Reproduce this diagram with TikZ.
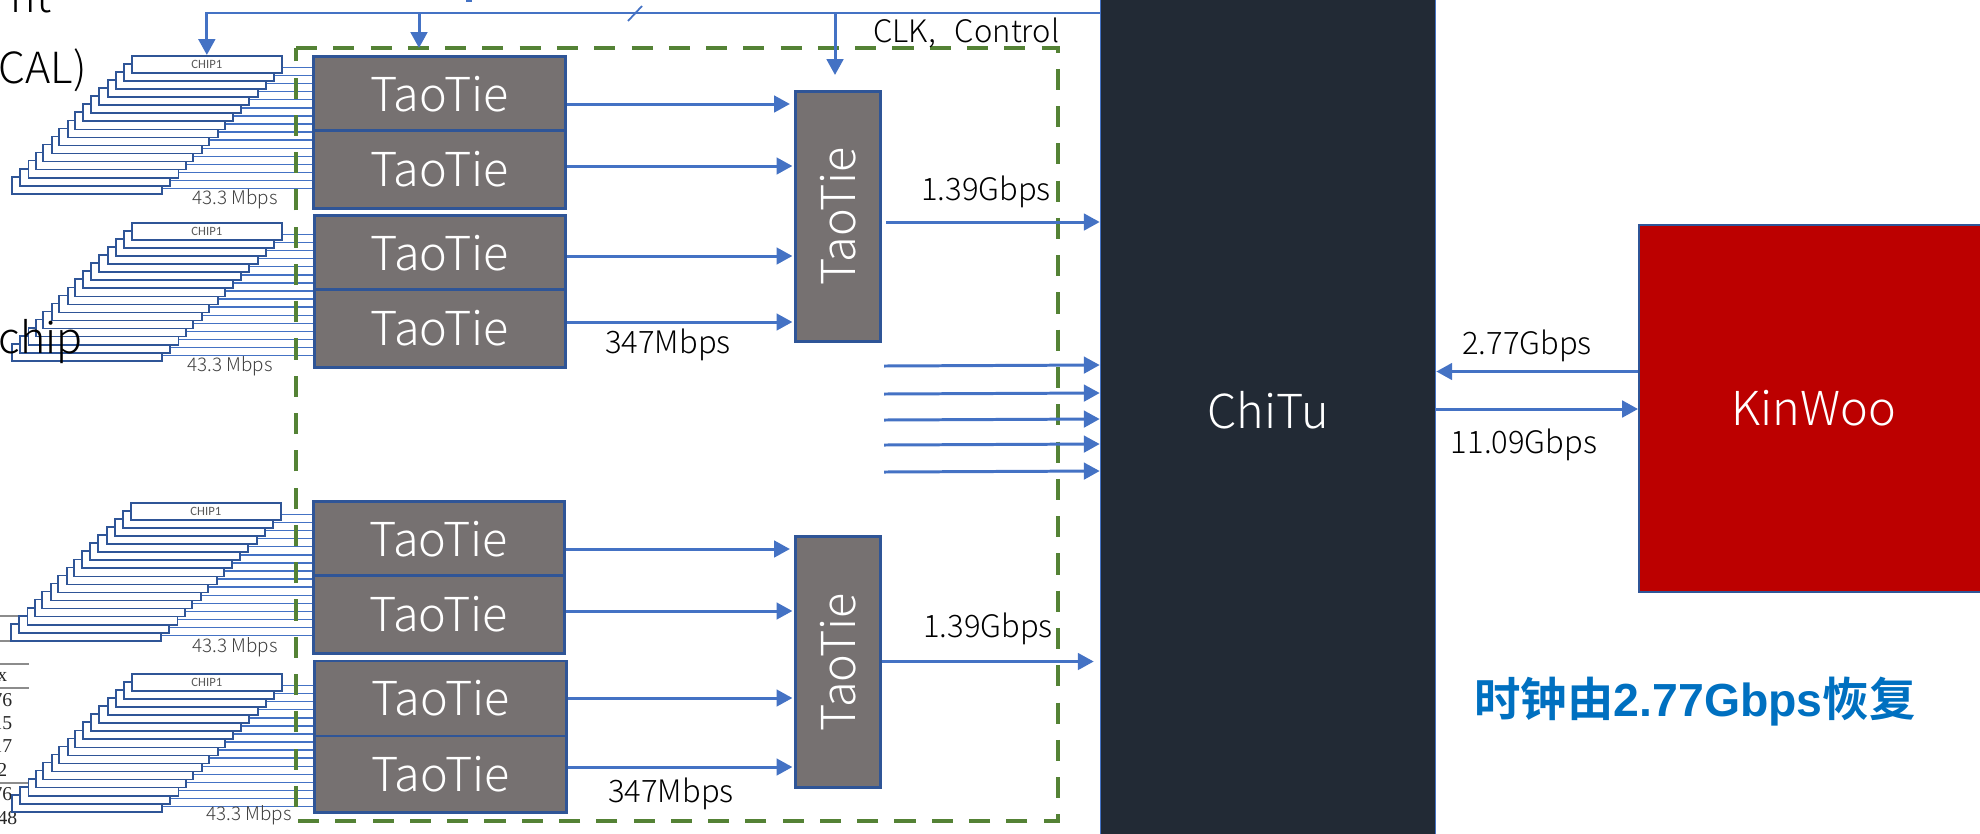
\documentclass[tikz,border=0pt]{standalone}
\usepackage{graphicx}
\usepackage{fontspec}
\setmainfont{Carlito}
\newfontfamily\lightfont{Noto Sans CJK SC Light}
\newfontfamily\cjkbold[BoldFont=*]{Noto Sans CJK SC Bold}
\newfontfamily\latinbold{Liberation Sans Bold}
\newfontfamily\tablefont{Liberation Serif}
\usetikzlibrary{arrows.meta,calc}
\definecolor{linkblue}{RGB}{68,114,196}
\definecolor{edgeblue}{RGB}{47,85,151}
\definecolor{boxgray}{RGB}{118,113,113}
\definecolor{chitudark}{RGB}{34,42,53}
\definecolor{kinwoored}{RGB}{188,0,0}
\definecolor{fpgagreen}{RGB}{84,130,53}
\definecolor{notecolor}{RGB}{0,112,192}
\newcommand{\bigsize}{\lightfont\fontsize{13.3}{16}\selectfont}
\newcommand{\ratesize}{\lightfont\fontsize{8.8}{11}\selectfont}
\newcommand{\lowered}[1]{\raisebox{-1.1pt}{#1}}
\tikzset{
  taotie/.style={draw=edgeblue, line width=0.85pt, fill=boxgray, text=white,
    inner sep=0pt, minimum width=2.51cm, font=\bigsize},
  merger/.style={draw=edgeblue, line width=0.85pt, fill=boxgray, text=white,
    inner sep=0pt, minimum width=0.84cm, minimum height=2.5cm, font=\bigsize},
  chipbox/.style={draw=edgeblue, line width=0.45pt, fill=white, inner sep=0pt,
    minimum width=1.5cm, minimum height=0.17cm, anchor=north west},
  chiptag/.style={text=black!65, inner sep=0pt, font=\fontsize{3.6}{4}\selectfont},
  wire/.style={linkblue, line width=0.4pt},
  link/.style={->, linkblue, line width=0.85pt},
  rate/.style={inner sep=0pt, font=\ratesize},
  mbps/.style={inner sep=0pt, text=black!75, font=\lightfont\fontsize{5.35}{7}\selectfont},
  cutoff/.style={inner sep=0pt, anchor=base west, font=\lightfont\fontsize{12.2}{15}\selectfont},
  tabnum/.style={inner sep=0pt, anchor=base east, text=black!85,
    font=\tablefont\fontsize{5.6}{7}\selectfont},
  tabrule/.style={black!45, line width=0.35pt}
}
% name, left of CHIP1, top of CHIP1, box the wires run to
\newcommand{\chipstack}[4]{
  \foreach \k/\dx in {15/-120,14/-111.7,13/-103.3,12/-95.7,11/-88.7,10/-79.7,9/-72.7,8/-63.7,
                      7/-57,6/-48.7,5/-40.7,4/-32.7,3/-23.7,2/-15.7,1/-8,0/0} {
    \node[chipbox] (#1c\k) at (#2+\dx,#3+\k*8.07) {};
    \path ($(#1c\k.north east)+(0,12.5)$) coordinate (#1w\k);
    \draw[wire] (#1w\k) -- (#1w\k -| #4.west);
  }
  \node[chiptag] (#1tag) at (#1c0) {CHIP1};
}
\begin{document}
\begin{tikzpicture}[x=0.01cm, y=-0.01cm, >={Triangle[length=4.5pt,width=4.7pt]}]
    \useasboundingbox (0,0) rectangle (1980,833);
    \clip (0,0) rectangle (1980,833);
    % --- cut off pieces at the left edge ---
    \node[cutoff] (cutnit) at (10,12) {nt};
    \node[cutoff] (cutcal) at (-2,83) {CAL)};
    \draw[tabrule] (0,616) -- (18,616);
    \draw[tabrule] (0,641) -- (29,641);
    \draw[tabrule] (0,664) -- (29,664);
    \draw[tabrule] (0,688) -- (29,688);
    \draw[tabrule] (0,783) -- (28,783);
    \node[tabnum] (numa) at (8,681) {x};
    \node[tabnum] (numb) at (13,706) {76};
    \node[tabnum] (numc) at (13,729) {15};
    \node[tabnum] (numd) at (13,752) {17};
    \node[tabnum] (nume) at (8,776) {2};
    \node[tabnum] (numf) at (13,800) {76};
    \node[tabnum] (numg) at (18,824) {48};
    \fill[linkblue] (466,0) rectangle (472,1.5);
    % --- TaoTie boxes ---
    \foreach \nm/\cx/\cy/\hgt in {tta/439.5/94/0.74,ttb/439.5/169.5/0.77,ttc/440/253/0.74,ttd/440/328.5/0.77,
                                  tte/439/539/0.74,ttf/439/614.5/0.77,ttg/440.5/698.5/0.75,tth/440.5/774/0.76}
      \node[taotie, minimum height=\hgt cm] (\nm) at (\cx,\cy) {\lowered{TaoTie}};
    \node[merger] (mga) at (838,216.5) {\rotatebox{90}{TaoTie}};
    \node[merger] (mgb) at (838,662) {\rotatebox{90}{TaoTie}};
    % --- chip stacks ---
    \chipstack{sa}{131}{55}{tta}
    \chipstack{sb}{131}{222}{ttc}
    \chipstack{sc}{130}{502}{tte}
    \chipstack{sd}{131}{673}{ttg}
    \node[mbps] (mbpsa) at (235,199) {43.3 Mbps};
    \node[mbps] (mbpsb) at (230,366) {43.3 Mbps};
    \node[mbps] (mbpsc) at (235,647) {43.3 Mbps};
    \node[mbps] (mbpsd) at (249,815) {43.3 Mbps};
    \node[cutoff] (cutchip) at (-2,353) {chip};
    % --- dashed board outline ---
    \draw[fpgagreen, line width=1.3pt, dash pattern=on 6pt off 4.6pt]
      (296,48) -- (1058,48) -- (1058,821) -- (296,821) -- cycle;
    % --- big chips on the right ---
    \node[draw=linkblue, line width=0.4pt, fill=chitudark, text=white, inner sep=0pt,
          minimum width=3.35cm, minimum height=8.5cm, font=\bigsize] (chitu) at (1268,410) {\lowered{ChiTu}};
    \node[draw=edgeblue, line width=0.5pt, fill=kinwoored, text=white, inner sep=0pt,
          minimum width=3.5cm, minimum height=3.67cm, font=\bigsize] (kinwoo) at (1814,408.5) {\lowered{KinWoo}};
    % --- clock and control ---
    \draw[link] (chitu.west |- 0,13) -| (sac0.north);
    \coordinate (tapb) at (419,13);
    \coordinate (tapc) at (835,13);
    \draw[link] (tapb) -- (tapb |- 0,48);
    \draw[link] (tapc) -- (tapc |- 0,75);
    \draw[linkblue, line width=0.5pt] (628,21) -- (642,6);
    \node[rate, anchor=east] (clk) at (1060,33) {CLK,\hspace{0.62em}Control};
    % --- TaoTie to TaoTie ---
    \foreach \src/\tgt/\y/\gap in {tta/mga/104/1.3pt,ttb/mga/166/0.6pt,ttc/mga/256/0.6pt,ttd/mga/322/0.6pt,
                                   tte/mgb/549/1.3pt,ttf/mgb/611/0.6pt,ttg/mgb/698/0.6pt,tth/mgb/767/0.6pt}
      \draw[link, shorten >=\gap] (\src.east |- 0,\y) -- (\tgt.west |- 0,\y);
    \node[rate] (ratea) at (668,345) {347Mbps};
    \node[rate] (rateb) at (671,794) {347Mbps};
    % --- into ChiTu ---
    \draw[link] (886,222) -- (chitu.west |- 0,222);
    \draw[link, shorten >=1.7pt] (mgb.east |- 0,661.5) -- (chitu.west |- 0,661.5);
    \foreach \y in {366,394,420,445,472}
      \draw[link] (884,\y) -- ($(chitu.west |- 0,\y)+(0,-1)$);
    \node[rate] (ratec) at (986,192) {1.39Gbps};
    \node[rate] (rated) at (988,629) {1.39Gbps};
    % --- ChiTu and KinWoo ---
    \draw[link] (kinwoo.west |- 0,371.5) -- (chitu.east |- 0,371.5);
    \draw[link] (chitu.east |- 0,409) -- (kinwoo.west |- 0,409);
    \node[rate] (ratee) at (1527,346) {2.77Gbps};
    \node[rate] (ratef) at (1524,445) {11.09Gbps};
    \node[inner sep=0pt, text=notecolor, font=\fontsize{13.2}{15}\selectfont] (note) at (1695,702)
      {\cjkbold 时钟由\latinbold 2.77Gbps\cjkbold 恢复};
\end{tikzpicture}
\end{document}
